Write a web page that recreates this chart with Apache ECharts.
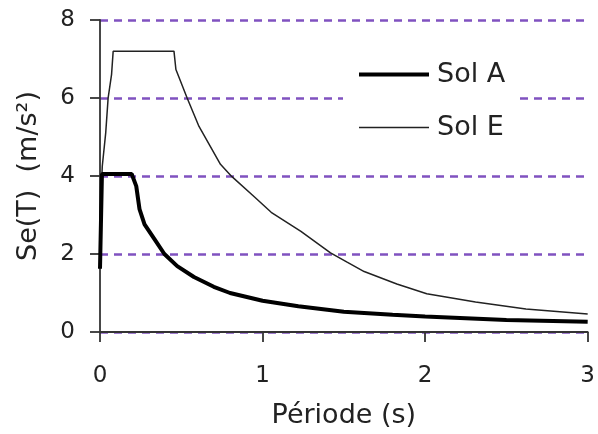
<!DOCTYPE html>
<html>
<head>
<meta charset="utf-8">
<script src="https://cdn.jsdelivr.net/npm/echarts@6/dist/echarts.min.js"></script>
<style>
  html, body { margin: 0; padding: 0; background: #fff; }
  #main-chart { width: 598px; height: 434px; }
</style>
</head>
<body>
<div id="main-chart"></div>
<script>
// periods (s) and spectral values (m/s²)
const periodsA = [0, 0.012, 0.195, 0.223, 0.243, 0.274, 0.335, 0.396, 0.475, 0.578, 0.70, 0.80, 1.0, 1.22, 1.5, 1.8, 2.0, 2.5, 3.0];
const seA = [1.62, 4.05, 4.05, 3.74, 3.15, 2.76, 2.38, 2.0, 1.69, 1.41, 1.16, 1.0, 0.80, 0.66, 0.52, 0.44, 0.40, 0.31, 0.26];

const periodsE = [0, 0.014, 0.035, 0.05, 0.071, 0.081, 0.455, 0.467, 0.536, 0.609, 0.741, 0.81, 0.954, 1.053, 1.236, 1.418, 1.52, 1.625, 1.826, 2.01, 2.31, 2.62, 3.0];
const seE = [2.88, 4.25, 5.1, 6.0, 6.6, 7.2, 7.2, 6.73, 6.0, 5.27, 4.3, 3.99, 3.45, 3.07, 2.58, 2.03, 1.79, 1.55, 1.23, 0.98, 0.77, 0.59, 0.46];

const xTicks = [0, 1, 2, 3];
const yTicks = [0, 2, 4, 6, 8];
const seriesNames = ['Sol A', 'Sol E'];

const font = 'DejaVu Sans';
const pairs = (xs, ys) => xs.map((x, i) => [x, ys[i]]);

const chartDom = document.getElementById('main-chart');
const myChart = echarts.init(chartDom, null, { renderer: 'canvas' });

myChart.setOption({
  animation: false,
  backgroundColor: '#fff',
  grid: { left: 100, right: 5, top: 20, bottom: 101 },
  legend: {
    orient: 'vertical',
    left: 343,
    top: 50,
    padding: [11, 14, 11, 14],
    backgroundColor: '#fff',
    itemWidth: 70,
    itemHeight: 24,
    itemGap: 26,
    itemStyle: { opacity: 0 },
    data: [
      { name: seriesNames[0], lineStyle: { width: 4, color: '#000' } },
      { name: seriesNames[1], lineStyle: { width: 1.5, color: '#222' } }
    ],
    textStyle: { fontFamily: font, fontSize: 27, color: '#222', lineHeight: 24, padding: [0, 0, 0, 3] }
  },
  xAxis: {
    type: 'value',
    min: xTicks[0],
    max: xTicks[xTicks.length - 1],
    interval: 1,
    name: 'Période (s)',
    nameLocation: 'middle',
    nameGap: 70,
    nameTextStyle: { fontFamily: font, fontSize: 27, color: '#222' },
    axisLine: { lineStyle: { color: '#333', width: 1.8 } },
    axisTick: { show: true, inside: false, length: 10, lineStyle: { color: '#333', width: 1.8 } },
    axisLabel: { margin: 33, fontFamily: font, fontSize: 23, color: '#222' },
    splitLine: { show: false }
  },
  yAxis: {
    type: 'value',
    min: yTicks[0],
    max: yTicks[yTicks.length - 1],
    interval: 2,
    name: 'Se(T)  (m/s²)',
    nameLocation: 'middle',
    nameGap: 58,
    nameTextStyle: { fontFamily: font, fontSize: 27, color: '#222' },
    axisLine: { show: true, lineStyle: { color: '#333', width: 1.8 } },
    axisTick: { show: true, inside: false, length: 10, lineStyle: { color: '#333', width: 1.8 } },
    axisLabel: { margin: 25, fontFamily: font, fontSize: 23, color: '#222' },
    splitLine: { show: true, lineStyle: { color: '#8052c0', width: 2.5, type: [8, 6] } }
  },
  series: [
    {
      name: seriesNames[0],
      type: 'line',
      symbol: 'none',
      data: pairs(periodsA, seA),
      lineStyle: { color: '#000', width: 4 },
      itemStyle: { color: '#000' },
      z: 3
    },
    {
      name: seriesNames[1],
      type: 'line',
      symbol: 'none',
      data: pairs(periodsE, seE),
      lineStyle: { color: '#222', width: 1.5 },
      itemStyle: { color: '#222' },
      z: 2
    }
  ]
});
</script>
</body>
</html>
